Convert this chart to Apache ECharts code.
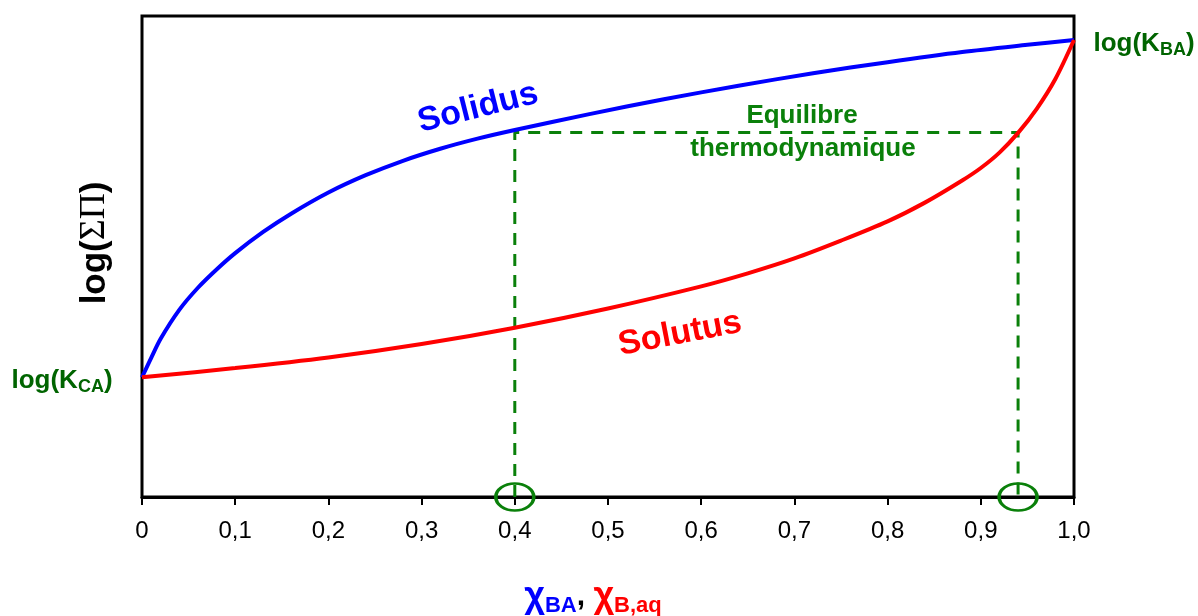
<!DOCTYPE html>
<html>
<head>
<meta charset="utf-8">
<script src="https://cdn.jsdelivr.net/npm/echarts@6/dist/echarts.min.js"></script>
<style>
html,body{margin:0;padding:0;background:#fff;}
#c{width:1198px;height:616px;}
</style>
</head>
<body>
<div id="c"></div>
<script>
// ---- data ----
const xSolidus = [0, 0.01, 0.02, 0.04, 0.06, 0.08, 0.1, 0.13, 0.16, 0.2, 0.24, 0.28, 0.32, 0.36, 0.4, 0.48, 0.56, 0.64, 0.72, 0.8, 0.88, 0.95, 1.0];
const ySolidus = [24.9, 29.0, 32.9, 38.9, 43.5, 47.3, 50.7, 55.1, 58.9, 63.3, 66.9, 69.9, 72.4, 74.5, 76.3, 79.6, 82.7, 85.5, 88.1, 90.4, 92.5, 94.0, 95.0];
const xSolutus = [0, 0.1, 0.2, 0.3, 0.4, 0.5, 0.6, 0.65, 0.7, 0.75, 0.8, 0.84, 0.88, 0.9, 0.92, 0.94, 0.96, 0.98, 1.0];
const ySolutus = [24.9, 26.8, 29.0, 31.8, 35.2, 39.2, 43.8, 46.5, 49.6, 53.3, 57.3, 61.2, 65.8, 68.4, 71.6, 75.7, 80.7, 86.9, 95.0];
const eqX = [0.4, 0.94];
const eqY = 75.8;
const xTickLabels = ['0', '0,1', '0,2', '0,3', '0,4', '0,5', '0,6', '0,7', '0,8', '0,9', '1,0'];

const GREEN_DARK = '#006400';
const GREEN = '#0a800a';
const SANS = '"Liberation Sans", Arial, sans-serif';
const SERIF = '"Liberation Serif", "DejaVu Serif", serif';

const chart = echarts.init(document.getElementById('c'), null, {renderer: 'canvas'});

const solidusData = xSolidus.map((x, i) => [x, ySolidus[i]]);
const solutusData = xSolutus.map((x, i) => [x, ySolutus[i]]);
const eqData = [[eqX[0], 0], [eqX[0], eqY], [eqX[1], eqY], [eqX[1], 0]];
const circleData = eqX.map(x => [x, 0]);

const deg = Math.PI / 180;

chart.setOption({
  animation: false,
  backgroundColor: '#fff',
  grid: {left: 142, right: 124, top: 16, bottom: 119, show: true, borderColor: '#000', borderWidth: 3, backgroundColor: 'transparent'},
  xAxis: {
    type: 'value', min: 0, max: 1, interval: 0.1,
    axisLine: {show: true, lineStyle: {color: '#000', width: 3}},
    axisTick: {show: true, length: 8, lineStyle: {color: '#000', width: 2}},
    axisLabel: {
      margin: 22, fontSize: 24, color: '#000', fontFamily: SANS,
      formatter: (v) => xTickLabels[Math.round(v * 10)]
    },
    splitLine: {show: false}
  },
  yAxis: {
    type: 'value', min: 0, max: 100,
    axisLine: {show: false}, axisTick: {show: false}, axisLabel: {show: false}, splitLine: {show: false}
  },
  series: [
    {
      type: 'line', data: eqData, symbol: 'none', z: 1,
      lineStyle: {color: GREEN, width: 3, type: [12, 9]}
    },
    {
      type: 'line', name: 'Solidus', data: solidusData, symbol: 'none', smooth: 0.3, z: 3,
      lineStyle: {color: '#0000ff', width: 4}
    },
    {
      type: 'line', name: 'Solutus', data: solutusData, symbol: 'none', smooth: 0.3, z: 3,
      lineStyle: {color: '#ff0000', width: 4}
    },
    {
      type: 'scatter', data: circleData, symbol: 'circle', symbolSize: [38, 27], clip: false, z: 4,
      itemStyle: {color: 'rgba(0,0,0,0)', borderColor: GREEN, borderWidth: 3, opacity: 1}
    }
  ],
  graphic: [
    {
      type: 'text', x: 95, y: 243, rotation: 90 * deg,
      style: {
        text: '{a|log(}{b|ΣΠ}{a|)}', align: 'center', verticalAlign: 'middle',
        rich: {
          a: {fontSize: 35, fontWeight: 'bold', fontFamily: SANS, fill: '#000'},
          b: {fontSize: 36, fontWeight: 'normal', fontFamily: SERIF, fill: '#000'}
        }
      }
    },
    {
      type: 'text', x: 62, y: 381,
      style: {
        text: '{a|log(K}{s|CA}{a|)}', align: 'center', verticalAlign: 'middle',
        rich: {
          a: {fontSize: 26, fontWeight: 'bold', fontFamily: SANS, fill: GREEN_DARK, lineHeight: 30},
          s: {fontSize: 18, fontWeight: 'bold', fontFamily: SANS, fill: GREEN_DARK, lineHeight: 15, verticalAlign: 'bottom'}
        }
      }
    },
    {
      type: 'text', x: 1144, y: 44,
      style: {
        text: '{a|log(K}{s|BA}{a|)}', align: 'center', verticalAlign: 'middle',
        rich: {
          a: {fontSize: 26, fontWeight: 'bold', fontFamily: SANS, fill: GREEN_DARK, lineHeight: 30},
          s: {fontSize: 18, fontWeight: 'bold', fontFamily: SANS, fill: GREEN_DARK, lineHeight: 15, verticalAlign: 'bottom'}
        }
      }
    },
    {
      type: 'text', x: 478, y: 108, rotation: 14 * deg,
      style: {text: 'Solidus', align: 'center', verticalAlign: 'middle', fontSize: 34, fontWeight: 'bold', fontFamily: SANS, fill: '#0000ff'}
    },
    {
      type: 'text', x: 680, y: 334, rotation: 11 * deg,
      style: {text: 'Solutus', align: 'center', verticalAlign: 'middle', fontSize: 34, fontWeight: 'bold', fontFamily: SANS, fill: '#ff0000'}
    },
    {
      type: 'text', x: 802, y: 116,
      style: {text: 'Equilibre', align: 'center', verticalAlign: 'middle', fontSize: 26, fontWeight: 'bold', fontFamily: SANS, fill: GREEN}
    },
    {
      type: 'text', x: 803, y: 149,
      style: {text: 'thermodynamique', align: 'center', verticalAlign: 'middle', fontSize: 26, fontWeight: 'bold', fontFamily: SANS, fill: GREEN}
    },
    {
      type: 'text', x: 593, y: 597,
      style: {
        text: '{c1|χ}{s1|BA}{k|, }{c2|χ}{s2|B,aq}', align: 'center', verticalAlign: 'middle',
        rich: {
          c1: {fontSize: 36, fontWeight: 'bold', fontFamily: SANS, fill: '#0000ff', lineHeight: 40},
          s1: {fontSize: 22, fontWeight: 'bold', fontFamily: SANS, fill: '#0000ff', lineHeight: 20, verticalAlign: 'bottom'},
          k: {fontSize: 30, fontWeight: 'bold', fontFamily: SANS, fill: '#000', lineHeight: 40},
          c2: {fontSize: 36, fontWeight: 'bold', fontFamily: SANS, fill: '#ff0000', lineHeight: 40},
          s2: {fontSize: 22, fontWeight: 'bold', fontFamily: SANS, fill: '#ff0000', lineHeight: 20, verticalAlign: 'bottom'}
        }
      }
    }
  ]
});
</script>
</body>
</html>
